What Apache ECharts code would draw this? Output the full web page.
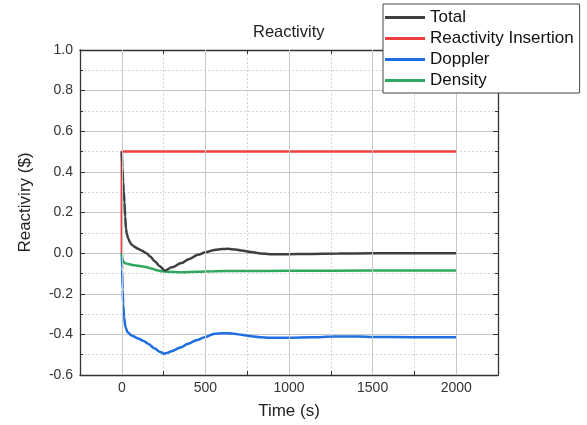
<!DOCTYPE html>
<html>
<head>
<meta charset="utf-8">
<script src="https://cdn.jsdelivr.net/npm/echarts@6/dist/echarts.min.js"></script>
<style>
html,body{margin:0;padding:0;background:#fff;}
#chart{width:587px;height:425px;}
</style>
</head>
<body>
<div id="chart"></div>
<script>
// Reactivity components over time, [time (s), reactivity ($)]
const seriesNames = ['Total', 'Reactivity Insertion', 'Doppler', 'Density'];

const totalData = [[0,0.5],[4,0.42],[8,0.35],[12,0.3],[16,0.25],[20,0.18],[25,0.12],[30,0.095],[38,0.073],[48,0.055],[58,0.043],[75,0.032],[97,0.021],[120,0.012],[147,0.0],[170,-0.017],[197,-0.04],[225,-0.063],[257,-0.086],[300,-0.07],[356,-0.049],[400,-0.03],[456,-0.008],[500,0.004],[555,0.016],[600,0.02],[635,0.021],[680,0.018],[715,0.013],[774,0.005],[830,-0.002],[884,-0.005],[1000,-0.005],[1100,-0.004],[1300,-0.002],[1500,-0.001],[1750,-0.001],[2000,-0.001]];

const insertionData = [[0,0],[0,0.5],[2000,0.5]];

const dopplerData = [[0,0],[2,-0.08],[5,-0.18],[8,-0.25],[14,-0.316],[22,-0.365],[35,-0.39],[58,-0.405],[97,-0.42],[130,-0.432],[157,-0.446],[197,-0.47],[230,-0.487],[253,-0.495],[275,-0.49],[297,-0.483],[350,-0.465],[396,-0.446],[450,-0.428],[496,-0.414],[555,-0.397],[600,-0.394],[635,-0.394],[680,-0.398],[715,-0.402],[774,-0.409],[830,-0.414],[884,-0.417],[1000,-0.416],[1140,-0.414],[1260,-0.411],[1420,-0.41],[1500,-0.413],[1740,-0.414],[2000,-0.414]];

const densityData = [[0,0],[3,-0.025],[8,-0.04],[20,-0.05],[38,-0.054],[75,-0.06],[117,-0.065],[150,-0.069],[177,-0.076],[210,-0.084],[237,-0.089],[280,-0.092],[356,-0.094],[450,-0.092],[555,-0.089],[700,-0.088],[1000,-0.087],[1500,-0.086],[2000,-0.086]];

// Major vertical gridlines
const majorTimes = [0, 500, 1000, 1500, 2000];

const colors = ['#3f3f3f', '#ee4040', '#1f6fe3', '#2ea85c'];
const FONT = '"Liberation Sans", Arial, sans-serif';

const chart = echarts.init(document.getElementById('chart'));

const lineSeries = (name, data, color, smooth) => ({
  name, type: 'line', data, showSymbol: false, symbol: 'none',
  smooth: smooth ? 0.3 : false, smoothMonotone: 'x',
  lineStyle: { color, width: 2.5 }, itemStyle: { color },
  xAxisIndex: 0, yAxisIndex: 0, animation: false, z: 3
});

chart.setOption({
  animation: false,
  title: {
    text: 'Reactivity', left: 248, top: 19,
    textStyle: { fontFamily: FONT, fontSize: 16.5, fontWeight: 'normal', color: '#222' }
  },
  legend: {
    data: seriesNames, orient: 'vertical', left: 383, top: 4,
    backgroundColor: '#fff', borderColor: '#444', borderWidth: 1,
    padding: [4, 6, 3, 2], itemGap: 2, itemWidth: 40, itemHeight: 3,
    icon: 'rect', z: 10,
    textStyle: { fontFamily: FONT, fontSize: 17, color: '#111', lineHeight: 19 }
  },
  grid: { left: 80, right: 89, top: 50, bottom: 47, containLabel: false },
  xAxis: [{
    type: 'value', min: -250, max: 2250, interval: 250,
    name: 'Time (s)', nameLocation: 'middle', nameGap: 28,
    nameTextStyle: { fontFamily: FONT, fontSize: 17, color: '#222' },
    axisLine: { show: true, onZero: false, lineStyle: { color: '#333', width: 1.3 } },
    axisTick: { show: true, inside: true, length: 4, lineStyle: { color: '#333' } },
    axisLabel: {
      fontFamily: FONT, fontSize: 14, color: '#333', margin: 6,
      formatter: v => (v >= 0 && v <= 2000 && v % 500 === 0) ? String(v) : ''
    },
    splitLine: { show: true, lineStyle: { color: '#d4d4d4', type: [2, 2], width: 1 } }
  }, {
    type: 'value', min: -250, max: 2250, interval: 250, position: 'top',
    axisLine: { show: true, onZero: false, lineStyle: { color: '#333', width: 1.3 } },
    axisTick: { show: true, inside: true, length: 4, lineStyle: { color: '#333' } },
    axisLabel: { show: false }, splitLine: { show: false }
  }],
  yAxis: [{
    type: 'value', min: -0.6, max: 1.0, interval: 0.2,
    name: 'Reactiviry ($)', nameLocation: 'middle', nameGap: 46,
    nameTextStyle: { fontFamily: FONT, fontSize: 17, color: '#222', padding: [0, 0, 0, 20] },
    axisLine: { show: true, onZero: false, lineStyle: { color: '#333', width: 1.3 } },
    axisTick: { show: true, inside: true, length: 5, lineStyle: { color: '#333' } },
    minorTick: { show: true, splitNumber: 2, length: 3, lineStyle: { color: '#333' } },
    axisLabel: { fontFamily: FONT, fontSize: 14, color: '#333', margin: 7, formatter: v => v.toFixed(1) },
    splitLine: { show: true, lineStyle: { color: '#c6c6c6', width: 1 } },
    minorSplitLine: { show: true, lineStyle: { color: '#d8d8d8', type: [2, 2], width: 1 } }
  }, {
    type: 'value', min: -0.6, max: 1.0, interval: 0.2, position: 'right',
    axisLine: { show: true, onZero: false, lineStyle: { color: '#333', width: 1.3 } },
    axisTick: { show: true, inside: true, length: 5, lineStyle: { color: '#333' } },
    minorTick: { show: true, splitNumber: 2, length: 3, lineStyle: { color: '#333' } },
    axisLabel: { show: false }, splitLine: { show: false }
  }],
  series: [
    {
      name: '_majorGrid', type: 'line', data: [], silent: true,
      xAxisIndex: 0, yAxisIndex: 0, z: 1,
      markLine: {
        silent: true, symbol: 'none', label: { show: false },
        lineStyle: { color: '#c6c6c6', type: 'solid', width: 1 },
        data: majorTimes.map(t => ({ xAxis: t }))
      }
    },
    lineSeries(seriesNames[1], insertionData, colors[1], false),
    lineSeries(seriesNames[2], dopplerData, colors[2], true),
    lineSeries(seriesNames[3], densityData, colors[3], true),
    lineSeries(seriesNames[0], totalData, colors[0], true)
  ],
  color: colors
});
</script>
</body>
</html>
